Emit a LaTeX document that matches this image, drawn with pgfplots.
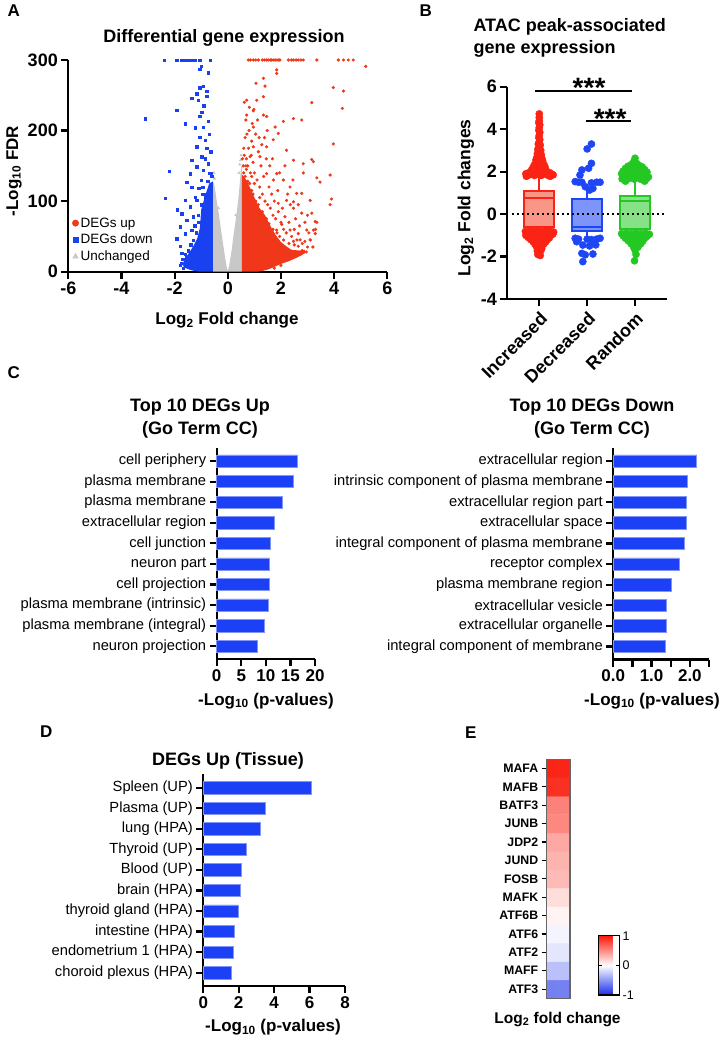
\documentclass[border=0pt]{standalone}
\usepackage{fontspec}
\setmainfont{Liberation Sans}
\usepackage{pgfplots}
\pgfplotsset{compat=1.18}
\usepgfplotslibrary{statistics}
\newcommand{\fs}[1]{\fontsize{#1bp}{#1bp}\selectfont}
\definecolor{vred}{RGB}{240,55,25}
\definecolor{vblue}{RGB}{25,65,240}
\definecolor{vgray}{RGB}{200,200,200}
\definecolor{barblue}{RGB}{28,64,245}
\definecolor{incR}{RGB}{250,35,20}
\definecolor{incF}{RGB}{250,150,135}
\definecolor{decB}{RGB}{30,70,245}
\definecolor{decF}{RGB}{125,148,250}
\definecolor{ranG}{RGB}{35,200,35}
\definecolor{ranF}{RGB}{135,225,135}
\pgfplotsset{
  gp/.style={scale only axis, axis lines=left, axis line style={-, line width=2.2bp},
    every outer x axis line/.append style={-}, every outer y axis line/.append style={-},
    every inner x axis line/.append style={-}, every inner y axis line/.append style={-},
    tick style={line width=2.2bp, black}, major tick length=7bp, tick align=outside,
    tick label style={font=\fs{18}\bfseries}, /pgf/number format/assume math mode=true,
    enlargelimits=false, clip=false},
  colormap={bwr}{rgb255=(25,45,235) rgb255=(255,255,255) rgb255=(250,25,10)}
}
\begin{document}
\begin{tikzpicture}
\useasboundingbox (0,0) rectangle (719bp,-1043bp);

% ---------------- Panel A ----------------
\node[anchor=base west, font=\fs{17}\bfseries] at (4bp,-16.7bp) {A};
\node[anchor=base, font=\fs{18}\bfseries] at (224bp,-42.7bp) {Differential gene expression};
\node[anchor=center, rotate=90, font=\fs{17}\bfseries] at (14bp,-171bp) {-Log\textsubscript{10} FDR};
\node[anchor=base, font=\fs{17}\bfseries] at (227bp,-324.7bp) {Log\textsubscript{2} Fold change};
\begin{axis}[gp, at={(68.3bp,-271.7bp)}, anchor=south west, width=319bp, height=211.7bp,
  xmin=-6, xmax=6, ymin=0, ymax=300, xtick={-6,-4,...,6}, ytick={0,100,200,300},
  legend style={draw=none, fill=none, at={(0.012,0.035)}, anchor=south west,
    font=\fs{13.5}, row sep=1.5bp, inner sep=0pt}, legend cell align=left]
\addplot[fill=vgray, draw=none, forget plot] coordinates {(-0.55,0)(-0.55,128)(-0.5,122)(-0.45,110)(-0.42,101)(-0.35,85)(-0.3,72)(-0.22,50)(-0.15,32)(-0.1,20)(-0.05,8)(0,1)(0.05,8)(0.1,20)(0.15,32)(0.21,50)(0.3,74)(0.39,101)(0.45,125)(0.5,148)(0.53,150)(0.53,0)} -- cycle;
\addplot[fill=vblue, draw=none, forget plot] coordinates {(-0.56,0)(-0.56,128)(-0.7,125)(-0.85,108)(-1.0,88)(-1.05,62)(-1.15,47)(-1.3,36)(-1.45,27)(-1.6,19)(-1.7,11)(-1.65,6)(-1.45,3)(-1.25,1)(-1.05,0)} -- cycle;
\addplot[fill=vred, draw=none, forget plot] coordinates {(0.53,0)(0.53,138)(0.7,130)(0.85,118)(1.0,105)(1.2,90)(1.4,80)(1.6,65)(1.8,52)(2.0,42)(2.2,36)(2.4,31)(2.7,30)(2.9,31)(2.9,26)(2.6,20)(2.3,15)(2.0,11)(1.7,6)(1.5,3)(1.3,1)(1.1,0)} -- cycle;
\addplot[only marks, mark=triangle*, mark size=1.5bp, vgray, forget plot] coordinates {(-0.5,132)(-0.52,140)(0.45,152)(0.48,158)(0.42,140)(0.5,165)(0.3,80)(-0.35,90)};
\addplot[only marks, mark=*, mark size=1.4bp, vred, forget plot] coordinates {
(0.77,300)(0.85,300)(0.96,300)(1.05,300)(1.15,300)(1.30,300)(1.38,300)(1.46,300)(1.52,300)(1.60,300)(1.65,300)(1.71,300)(1.78,300)(1.85,300)(1.92,300)(1.96,300)(2.28,300)(2.40,300)(2.47,300)(2.57,300)(2.65,300)(2.75,300)(2.84,300)(3.35,300)(4.16,300)(4.35,300)(4.53,300)(4.72,300)
(5.19,291)(3.97,261)(4.35,256)(4.31,231.5)(3.16,239.5)(3.97,181)(3.16,159)(3.22,156)(2.84,140)(3.85,137)(3.9,103)(3.85,95)(3.47,127)(3.35,133)(2.78,111)(2.47,99)(3.0,80)(3.3,60)(3.35,70)(3.1,45)(2.9,43)(3.2,35)
(1.84,286)(1.84,281)(1.06,267)(1.34,274)(1.40,263)(1.34,248)(0.71,243)(0.81,233)(1.09,243)(0.71,222)(0.96,228)(1.34,222)(1.46,220)(2.09,213)(2.47,217)(2.78,215)(0.96,205)(1.78,205)(1.90,196)(1.71,187)(1.46,177)(1.21,163)(0.84,163)(0.96,177)(2.21,172)(2.47,158)(2.84,153)(1.84,139)(1.46,139)(2.09,130)(2.34,120)(2.59,111)(2.21,101)(1.90,97)(2.47,90)(2.78,83)(3.10,101)(3.16,83)(3.29,71)(2.97,59)(3.22,59)(3.29,54)(2.65,54)(2.34,59)(2.72,45)(3.10,45)(2.47,43)(2.15,78)(2.03,67)(1.84,59)
(0.6,175)(0.65,190)(0.7,160)(0.75,150)(0.8,200)(0.85,140)(0.9,185)(0.95,155)(1.0,140)(1.05,195)(1.1,130)(1.15,170)(1.2,120)(1.25,150)(1.3,110)(1.35,135)(1.4,100)(1.45,160)(1.5,95)(1.55,120)(1.6,90)(1.65,110)(1.7,80)(1.75,100)(1.8,75)(1.9,85)(2.0,70)(2.05,90)(2.1,60)(2.2,55)(2.3,70)(2.4,50)(2.5,60)(2.6,45)(2.7,65)(2.8,40)(0.62,240)(0.68,215)(0.72,195)(0.78,175)(0.88,165)(0.92,210)(0.98,230)(1.12,215)(1.18,190)(1.28,180)(1.38,190)(1.48,200)(1.58,150)(1.68,160)(1.72,130)(1.88,115)(1.95,140)(2.15,150)(2.25,110)(2.35,95)(2.45,130)(2.55,75)(2.65,95)(2.9,70)(3.05,55)
(0.6,140)(0.65,135)(0.75,128)(0.9,115)(1.05,100)(1.15,95)(1.3,85)(1.45,75)(1.55,68)(1.7,60)(1.85,55)(1.95,50)(2.1,45)(2.3,40)(2.5,38)(2.65,36)(2.8,30)(2.95,28)(3.0,35)(2.75,25)(2.5,22)(2.25,17)(2.0,9)(1.75,5)(0.58,150)(0.7,145)(0.82,125)(0.95,110)(1.1,92)(1.25,78)(1.4,70)(1.6,58)(0.55,160)(0.62,165)(0.68,150)(1.0,125)(0.9,135)(1.2,105)};
\addplot[only marks, mark=square*, mark size=1.2bp, vblue, forget plot] coordinates {
(-2.39,300)(-1.92,300)(-1.73,300)(-1.62,300)(-1.55,300)(-1.45,300)(-1.36,300)(-1.23,300)(-1.05,300)(-0.67,300)
(-3.11,217)(-2.2,142)(-2.35,104)(-1.92,229)(-1.6,210)(-1.9,88)(-1.92,47)(-1.8,36)(-1.73,26)(-1.55,20)
(-1.36,246)(-1.17,252)(-1.05,261)(-0.92,263)(-0.8,249)(-1.11,243)(-0.98,226)(-1.05,220)(-1.23,204)(-0.92,205)(-0.74,213)(-1.05,191)(-0.86,186)(-1.17,177)(-0.8,175)(-0.98,163)(-1.36,158)(-0.74,153)(-1.17,149)(-0.92,144)(-1.42,139)(-1.55,127)(-1.36,120)(-1.23,106)(-1.61,101)(-1.42,92)(-1.73,82)(-1.55,73)(-1.8,64)(-1.3,78)(-1.61,54)(-1.36,59)(-1.17,101)(-0.86,106)(-0.8,256)(-0.74,282)(-1.05,287)(-1.0,291)(-0.9,235)(-0.7,195)(-0.65,170)(-0.85,160)(-1.0,130)(-0.7,140)(-0.95,110)(-1.1,118)
(-0.6,135)(-0.65,140)(-0.75,128)(-0.9,110)(-1.0,95)(-1.1,70)(-1.2,55)(-1.3,45)(-1.4,38)(-1.5,30)(-1.6,25)(-1.7,18)(-1.75,12)(-1.8,9)(-1.68,5)(-1.12,80)(-0.95,120)(-1.25,65)};
\addlegendimage{only marks, mark=*, mark size=3.2bp, vred}
\addlegendentry{DEGs up}
\addlegendimage{only marks, mark=square*, mark size=2.8bp, vblue}
\addlegendentry{DEGs down}
\addlegendimage{only marks, mark=triangle*, mark size=3.2bp, vgray}
\addlegendentry{Unchanged}
\end{axis}

% ---------------- Panel B ----------------
\node[anchor=base west, font=\fs{17}\bfseries] at (416bp,-16bp) {B};
\node[anchor=base west, font=\fs{18}\bfseries] at (470bp,-31.7bp) {ATAC peak-associated};
\node[anchor=base west, font=\fs{18}\bfseries] at (470bp,-53bp) {gene expression};
\node[anchor=center, rotate=90, font=\fs{17.5}\bfseries] at (466bp,-198bp) {Log\textsubscript{2} Fold changes};
\begin{axis}[gp, at={(507.3bp,-299bp)}, anchor=south west, width=159.7bp, height=212.3bp,
  boxplot/draw direction=y,
  xmin=0.332, xmax=3.668, ymin=-4, ymax=6, xtick={1,2,3}, xticklabels={Increased,Decreased,Random},
  ytick={-4,-2,...,6}, xticklabel style={rotate=45, anchor=north east, font=\fs{18}\bfseries}]
\addplot[draw=incR, fill=incF, line width=1.8bp, boxplot prepared={draw position=1, lower whisker=-0.85, lower quartile=-0.62, median=0.77, upper quartile=1.10, upper whisker=1.75, box extend=0.63, whisker extend=0}] coordinates {};
\addplot[draw=decB, fill=decF, line width=1.8bp, boxplot prepared={draw position=2, lower whisker=-1.05, lower quartile=-0.80, median=-0.60, upper quartile=0.70, upper whisker=1.10, box extend=0.63, whisker extend=0}] coordinates {};
\addplot[draw=ranG, fill=ranF, line width=1.8bp, boxplot prepared={draw position=3, lower whisker=-0.90, lower quartile=-0.69, median=0.63, upper quartile=0.86, upper whisker=1.55, box extend=0.63, whisker extend=0}] coordinates {};
\addplot[only marks, mark=*, mark size=3.6bp, incR] coordinates {
(1.00,4.72)(1.00,4.55)(1.00,4.40)(0.99,4.30)(1.01,4.20)(1.00,4.08)(0.99,3.95)(1.01,3.85)(1.00,3.72)(0.99,3.60)(1.01,3.50)(1.00,3.40)(0.98,3.30)(1.02,3.25)(1.00,3.15)(0.97,3.05)(1.03,3.00)(1.00,2.92)(0.96,2.85)(1.04,2.80)(1.00,2.75)(0.95,2.68)(1.05,2.65)(0.99,2.60)(0.93,2.55)(1.07,2.52)(1.01,2.48)(0.94,2.42)(1.08,2.40)(0.98,2.38)(1.03,2.32)(0.90,2.33)(1.11,2.28)(0.95,2.25)(1.06,2.22)(0.87,2.20)(1.00,2.18)(1.13,2.15)(0.92,2.12)(1.05,2.10)(0.84,2.08)(0.97,2.05)(1.10,2.03)(0.88,1.98)(1.16,1.98)(1.01,1.97)(0.78,1.95)(0.93,1.92)(1.07,1.92)(1.22,1.95)(0.72,1.90)(0.84,1.88)(0.99,1.86)(1.13,1.88)(1.26,1.88)(0.77,1.83)(0.90,1.82)(1.04,1.82)(1.19,1.82)(1.29,1.85)(0.73,1.78)(1.23,1.78)
(0.71,-0.82)(0.80,-0.80)(0.89,-0.82)(0.98,-0.80)(1.07,-0.82)(1.16,-0.80)(1.25,-0.82)(1.30,-0.85)(0.75,-0.90)(0.84,-0.92)(0.93,-0.90)(1.02,-0.92)(1.11,-0.90)(1.20,-0.92)(1.28,-0.95)(0.72,-1.00)(0.80,-1.02)(0.89,-1.00)(0.98,-1.03)(1.07,-1.00)(1.16,-1.02)(1.24,-1.00)(0.77,-1.10)(0.86,-1.12)(0.95,-1.10)(1.04,-1.12)(1.13,-1.10)(1.21,-1.12)(0.82,-1.20)(0.91,-1.22)(1.00,-1.20)(1.09,-1.22)(1.17,-1.20)(0.87,-1.30)(0.96,-1.32)(1.05,-1.30)(1.13,-1.32)(0.91,-1.42)(1.00,-1.40)(1.09,-1.42)(0.94,-1.52)(1.03,-1.52)(0.97,-1.62)(1.05,-1.63)(0.96,-1.72)(1.03,-1.73)(1.00,-1.82)(0.97,-1.90)(1.02,-1.95)};
\addplot[only marks, mark=*, mark size=3.6bp, decB] coordinates {
(2.09,3.30)(2.00,3.07)(2.09,2.39)(2.03,2.16)(1.89,2.08)(1.85,1.84)(1.75,1.53)(1.82,1.50)(1.89,1.50)(2.09,1.47)(2.20,1.50)(2.27,1.50)(1.96,1.29)(2.12,1.21)(2.05,1.13)
(1.75,-1.14)(1.82,-1.18)(2.00,-1.18)(2.09,-1.20)(2.20,-1.18)(2.27,-1.14)(1.91,-1.46)(2.05,-1.50)(2.18,-1.45)(1.89,-1.85)(1.96,-1.92)(2.12,-1.88)(1.91,-2.24)(2.15,-1.30)(1.78,-1.30)};
\addplot[only marks, mark=*, mark size=3.6bp, ranG] coordinates {
(3.00,2.63)(2.97,2.45)(3.03,2.40)(2.92,2.33)(3.08,2.30)(2.85,2.25)(3.00,2.25)(3.15,2.22)(2.80,2.15)(2.93,2.12)(3.07,2.12)(3.20,2.10)(2.75,2.02)(2.88,2.00)(3.02,2.00)(3.14,2.00)(3.25,1.98)(2.72,1.90)(2.83,1.88)(2.96,1.88)(3.09,1.88)(3.22,1.86)(2.77,1.78)(2.90,1.76)(3.03,1.76)(3.16,1.76)(3.28,1.75)(2.73,1.66)(2.85,1.65)(2.98,1.65)(3.11,1.65)(3.24,1.66)(2.80,1.55)(3.20,1.55)
(2.72,-0.92)(2.82,-0.90)(2.92,-0.92)(3.02,-0.90)(3.12,-0.92)(3.22,-0.90)(3.30,-0.95)(2.75,-1.02)(2.85,-1.04)(2.95,-1.02)(3.05,-1.04)(3.15,-1.02)(3.25,-1.05)(2.80,-1.14)(2.90,-1.15)(3.00,-1.14)(3.10,-1.16)(3.20,-1.14)(2.86,-1.26)(2.96,-1.28)(3.06,-1.26)(3.16,-1.28)(2.92,-1.40)(3.02,-1.42)(3.12,-1.40)(2.97,-1.55)(3.06,-1.56)(3.00,-1.70)(3.02,-1.90)(2.99,-2.20)};
\addplot[black, line width=2bp, dash pattern=on 2bp off 3bp] coordinates {(0.43,0)(3.66,0)};
\addplot[black, line width=2bp] coordinates {(0.92,5.81)(2.94,5.81)};
\addplot[black, line width=2bp] coordinates {(1.98,4.40)(2.92,4.40)};
\node[anchor=base, font=\fs{28}\bfseries] at (axis cs:2.04,5.48) {***};
\node[anchor=base, font=\fs{28}\bfseries] at (axis cs:2.48,4.02) {***};
\end{axis}

% ---------------- Panel C ----------------
\node[anchor=base west, font=\fs{17}\bfseries] at (4bp,-378bp) {C};
\node[anchor=base, font=\fs{18}\bfseries] at (200bp,-411.7bp) {Top 10 DEGs Up};
\node[anchor=base, font=\fs{18}\bfseries] at (200bp,-434bp) {(Go Term CC)};
\node[anchor=base, font=\fs{17}\bfseries] at (266bp,-705bp) {-Log\textsubscript{10} (p-values)};
\begin{axis}[gp, at={(216.7bp,-659.3bp)}, anchor=south west, width=98.3bp, height=211bp,
  xbar, bar width=12.3bp, xmin=0, xmax=20, ymin=0.369, ymax=10.617, xtick={0,5,...,20},
  xticklabel style={font=\fs{17}\bfseries},
  ytick={1,...,10}, yticklabel style={font=\fs{14.7}},
  yticklabels={neuron projection, plasma membrane (integral), plasma membrane (intrinsic), cell projection, neuron part, cell junction, extracellular region, plasma membrane, plasma membrane, cell periphery}]
\addplot[fill=barblue, draw=barblue!55!white, line width=0.6bp] coordinates {(8.3,1)(9.6,2)(10.5,3)(10.6,4)(10.6,5)(11.0,6)(11.7,7)(13.4,8)(15.6,9)(16.3,10)};
\end{axis}

\node[anchor=base, font=\fs{18}\bfseries] at (592bp,-411.7bp) {Top 10 DEGs Down};
\node[anchor=base, font=\fs{18}\bfseries] at (592bp,-434bp) {(Go Term CC)};
\node[anchor=base, font=\fs{17}\bfseries] at (652bp,-705bp) {-Log\textsubscript{10} (p-values)};
\begin{axis}[gp, at={(613.3bp,-659.5bp)}, anchor=south west, width=95.7bp, height=211.2bp,
  xbar, bar width=12.3bp, xmin=0, xmax=2.5, ymin=0.369, ymax=10.617, xtick={0,0.5,...,2.5},
  xticklabels={0.0,,1.0,,2.0,}, xticklabel style={font=\fs{17}\bfseries},
  ytick={1,...,10}, yticklabel style={font=\fs{14.7}},
  yticklabels={integral component of membrane, extracellular organelle, extracellular vesicle, plasma membrane region, receptor complex, integral component of plasma membrane, extracellular space, extracellular region part, intrinsic component of plasma membrane, extracellular region}]
\addplot[fill=barblue, draw=barblue!55!white, line width=0.6bp] coordinates {(1.36,1)(1.38,2)(1.38,3)(1.52,4)(1.72,5)(1.85,6)(1.91,7)(1.91,8)(1.93,9)(2.18,10)};
\end{axis}

% ---------------- Panel D ----------------
\node[anchor=base west, font=\fs{17}\bfseries] at (36.7bp,-737.3bp) {D};
\node[anchor=base, font=\fs{18}\bfseries] at (228bp,-765bp) {DEGs Up (Tissue)};
\node[anchor=base, font=\fs{17}\bfseries] at (273bp,-1031.7bp) {-Log\textsubscript{10} (p-values)};
\begin{axis}[gp, at={(203.3bp,-986bp)}, anchor=south west, width=141.7bp, height=211.7bp,
  xbar, bar width=12.3bp, xmin=0, xmax=8, ymin=0.353, ymax=10.65, xtick={0,2,...,8},
  xticklabel style={font=\fs{17}\bfseries},
  ytick={1,...,10}, yticklabel style={font=\fs{14.7}},
  yticklabels={choroid plexus (HPA), endometrium 1 (HPA), intestine (HPA), thyroid gland (HPA), brain (HPA), Blood (UP), Thyroid (UP), lung (HPA), Plasma (UP), Spleen (UP)}]
\addplot[fill=barblue, draw=barblue!55!white, line width=0.6bp] coordinates {(1.58,1)(1.72,2)(1.75,3)(1.96,4)(2.11,5)(2.17,6)(2.45,7)(3.24,8)(3.48,9)(6.12,10)};
\end{axis}

% ---------------- Panel E ----------------
\node[anchor=base west, font=\fs{17}\bfseries] at (461.7bp,-738.3bp) {E};
\node[anchor=base, font=\fs{15.5}\bfseries] at (557.5bp,-1023.3bp) {Log\textsubscript{2} fold change};
\begin{axis}[scale only axis, at={(546.7bp,-998.3bp)}, anchor=south west, width=23.3bp, height=239bp,
  xmin=-0.5, xmax=1.5, ymin=0.5, ymax=13.5, enlargelimits=false, xtick=\empty,
  ytick={1,...,13}, yticklabels={ATF3,MAFF,ATF2,ATF6,ATF6B,MAFK,FOSB,JUND,JDP2,JUNB,BATF3,MAFB,MAFA},
  ytick pos=left, tick align=outside, major tick length=5bp, tick style={black, line width=1.1bp},
  yticklabel style={font=\fs{12.3}\bfseries}, axis line style={draw=black!60, line width=1.2bp},
  axis on top, colormap name=bwr, point meta min=-1, point meta max=1,
  colorbar, colorbar style={scale only axis, width=20.7bp, height=59.3bp,
    at={(parent axis.south east)}, anchor=south west, xshift=20bp, yshift=3.3bp,
    ytick={-1,0,1}, yticklabel style={font=\fs{12.5}}, /pgf/number format/assume math mode=true,
    tick align=inside, ytick pos=both, yticklabel pos=right, major tick length=3bp,
    tick style={black, line width=1.5bp}, axis line style={black, line width=1.2bp}}]
\addplot[matrix plot*, mesh/cols=2, point meta=explicit] table[meta=c] {
x y c
0 1 -0.60
1 1 -0.60
0 2 -0.30
1 2 -0.30
0 3 -0.12
1 3 -0.12
0 4 -0.05
1 4 -0.05
0 5 0.05
1 5 0.05
0 6 0.15
1 6 0.15
0 7 0.30
1 7 0.30
0 8 0.33
1 8 0.33
0 9 0.38
1 9 0.38
0 10 0.52
1 10 0.52
0 11 0.55
1 11 0.55
0 12 0.90
1 12 0.90
0 13 0.95
1 13 0.95
};
\end{axis}
\end{tikzpicture}
\end{document}
